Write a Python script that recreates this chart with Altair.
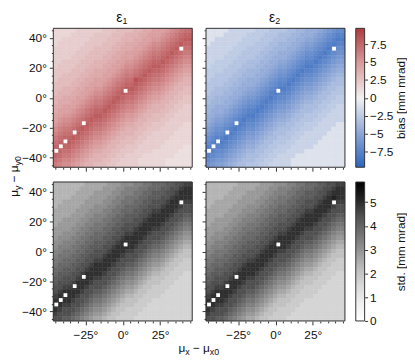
import altair as alt

FONT = "Liberation Sans"
TEXT = "#111111"
FRAME = "#333333"

# cell centres (degrees)
X_CENTERS = [-45, -42, -39, -36, -33, -30, -27, -24, -21, -18, -15, -12, -9, -6, -3,
             0, 3, 6, 9, 12, 15, 18, 21, 24, 27, 30, 33, 36, 39, 42, 45]
Y_CENTERS = [45, 42, 39, 36, 33, 30, 27, 24, 21, 18, 15, 12, 9, 6, 3,
             0, -3, -6, -9, -12, -15, -18, -21, -24, -27, -30, -33, -36, -39, -42, -45]
CELL = 3.0
LIMIT = 46.5

# bias grids: base-36 digit * 0.5 mm mrad (eps2 negative); rows top (y=45) -> bottom (y=-45)
EPS1_ROWS = [
    "3333344444455566667788999ABCDEE",
    "333344444555566677788999ABCDEFF",
    "3344444455556667778899AABCDEFGG",
    "344444455556667788899ABBCDEFGFF",
    "44444455566667788899ABCCDEFGFEE",
    "4444455566667788999ABCDDEFGFEDD",
    "444455566667788999ABCDEEFGFEDCC",
    "4455556667778899AABCDEFFGFEDCBB",
    "455556667778899ABBCDEFGGFEDCBAA",
    "55556667788899ABCCDEFGFFEDCBA99",
    "5566667788899ABCDDEFGFEEDCBA988",
    "566667788999ABCDEEHGFEDDCBA9877",
    "66667788999ABCDEFFGFEDCCBA98777",
    "667778899AABCDEFGGFEDCBBA987766",
    "67778899ABBCDEFGFFEDCBAA9877666",
    "7788899ABCCDEFGFEEDCBA998776655",
    "788899ABCDDEFGFEDDCBA9887766555",
    "88999ABCDEEFGFEDCCBA98777665544",
    "8999ABCDEFFGFEDCBBA987776655444",
    "99AABCDEFGGFEDCBAA9877666554444",
    "9ABBCDEFGFFEDCBA998776665544444",
    "ABCCDEFGFEEDCBA9887766555444433",
    "BCDDEFGFEDDCBA98777665554444333",
    "CDEEFGFEDCCBA987776655444443333",
    "DEFFGFEDCBBA9877666554444433333",
    "EFGGFEDCBAA98776665544444333333",
    "FGFFEDCBA9987766555444443333322",
    "GFEEDCBA98877665554444333333222",
    "FEDDCBA987776655444433333332222",
    "EDCCBA9877766554444333333222222",
    "DCBBA98776665544444333333222222",
]
EPS2_ROWS = [
    "2222244444455566667788999ABCDEE",
    "222244444555566677788999ABCDEFF",
    "2244444455556667778899AABCDEFGG",
    "244444455556667788899ABBCDEFGFF",
    "44444455566667788899ABCCDEFGFEE",
    "4444455566667788999ABCDDEFGFEDD",
    "444455566667788999ABCDEEFGFEDCC",
    "4455556667778899AABCDEFFGFEDCBB",
    "455556667778899ABBCDEFGGFEDCBAA",
    "55556667788899ABCCDEFGFFEDCBA99",
    "5566667788899ABCDDEFGFEEDCBA988",
    "566667788999ABCDEEFGFEDDCBA9877",
    "66667788999ABCDEFFGFEDCCBA98777",
    "667778899AABCDEFGGFEDCBBA987766",
    "67778899ABBCDEFGFFEDCBAA9877666",
    "7788899ABCCDEFGFEEDCBA998776655",
    "788899ABCDDEFGFEDDCBA9887766555",
    "88999ABCDEEFGFEDCCBA98777665544",
    "8999ABCDEFFGFEDCBBA987776655444",
    "99AABCDEFGGFEDCBAA9877666554444",
    "9ABBCDEFGFFEDCBA998776665544444",
    "ABCCDEFGFEEDCBA9887766555444422",
    "BCDDEFGFEDDCBA98777665554444222",
    "CDEEFGFEDCCBA987776655444442222",
    "DEFFGFEDCBBA9877666554444422222",
    "EFGGFEDCBAA98776665544444222222",
    "FGFFEDCBA9987766555444442222222",
    "GFEEDCBA98877665554444222222222",
    "FEDDCBA987776655444422222222222",
    "EDCCBA9877766554444222222222222",
    "DCBBA98776665544444222222222222",
]
# std grids: base-36 digit * 0.26 mm mrad
STD1_ROWS = [
    "9999999AAAAABBBCCCDDEEFFFGGHHII",
    "999999AAAAABBBCCDDDEEFFFGGHHIJJ",
    "99999AAAABBBBCCDDDEEFFGGGHHIJJJ",
    "9999AAAABBBBCCDDEEEFFGGGHHIJJJJ",
    "99AAAAABBBBCCDDEEEFFGGHHHIJJJII",
    "9AAAAABBBCCCDDEEFFFGGHHHIJJJIHH",
    "AAAAABBBCCCDDEEFFFGGHHIIJJJIHHH",
    "AAAABBBCCDDDEEFFGGGHHIJJJJIHHGG",
    "AABBBBCCDDDEEFFGGGHHIJJJJIHHGFF",
    "ABBBBCCDDEEEFFGGHHHIJJJJIHHGFEE",
    "BBBBCCDDEEEFFGGHHHIJJJIIHHGFEDD",
    "BBCCCDDEEFFFGGHHIIJJJIHHHGFEDCC",
    "BCCCDDEEFFFGGHHIJJJJIHHHGFEDCBB",
    "CCDDDEEFFGGGHHIJJJJIHHGGFEDCBAA",
    "CDDDEEFFGGGHHIJJJJIHHGFFEDCBA99",
    "DDEEEFFGGHHHIJJJIIHHGFEEDCBA988",
    "DEEEFFGGHHHIJJJIHHHGFEDDCBA9888",
    "EEFFFGGHHIIJJJIHHHGFEDCCBA98877",
    "EFFFGGHHIJJJJIHHGGFEDCBBA988777",
    "FFGGGHHIJJJJIHHGFFEDCBAA9887777",
    "FGGGHHIJJJJIHHGFEEDCBA998877766",
    "GGHHHIJJJIIHHGFEDDCBA9888777666",
    "GHHHIJJJIHHHGFEDCCBA98887776666",
    "HHIIJJJIHHHGFEDCBBA988777766666",
    "HIJJJJIHHGGFEDCBAA9887777666666",
    "IJJJJIHHGFFEDCBA998877776666666",
    "JJJJIHHGFEEDCBA9888777666666666",
    "JJIIHHGFEDDCBA98887776666666666",
    "JIHHHGFEDCCBA988777766666666666",
    "IHHHGFEDCBBA9887777666666666666",
    "HHGGFEDCBAA98877776666666666666",
]
STD2_ROWS = [
    "9999999AAAAABBBCCCDDEEFFFGGHHII",
    "999999AAAAABBBCCDDDEEFFFGGHHIJJ",
    "99999AAAABBBBCCDDDEEFFGGGHHIJJJ",
    "9999AAAABBBBCCDDEEEFFGGGHHIJKJJ",
    "99AAAAABBBBCCDDEEEFFGGHHHIJJJII",
    "9AAAAABBBCCCDDEEFFFGGHHHIJJJIHH",
    "AAAAABBBCCCDDEEFFFGGHHIIJJJIHHH",
    "AAAABBBCCDDDEEFFGGGHHIJJJJIHHGG",
    "AABBBBCCDDDEEFFGGGHHIJJJJIHHGFF",
    "ABBBBCCDDEEEFFGGHHHIJJJJIHHGFEE",
    "BBBBCCDDEEEFFGGHHHIJJJIIHHGFEDD",
    "BBCCCDDEEFFFGGHHIIJJJIHHHGFEDCC",
    "BCCCDDEEFFFGGHHIJJJJIHHHGFEDCBB",
    "CCDDDEEFFGGGHHIJJJJIHHGGFEDCBAA",
    "CDDDEEFFGGGHHIJJJJIHHGFFEDCBA99",
    "DDEEEFFGGHHHIJJJIIHHGFEEDCBA988",
    "DEEEFFGGHHHIJJJIHHHGFEDDCBA9888",
    "EEFFFGGHHIIJJJIHHHGFEDCCBA98877",
    "EFFFGGHHIJJJJIHHGGFEDCBBA988777",
    "FFGGGHHIJJJJIHHGFFEDCBAA9887777",
    "FGGGHHIJJJJIHHGFEEDCBA998877766",
    "GGHHHIJJJIIHHGFEDDCBA9888777666",
    "GHHHIJJJIHHHGFEDCCBA98887776666",
    "HHIIJJJIHHHGFEDCBBA988777766666",
    "HIJJJJIHHGGFEDCBAA9887777666666",
    "IJJJJIHHGFFEDCBA998877776666666",
    "JJJJIHHGFEEDCBA9888777666666666",
    "JJIIHHGFEDDCBA98887776666666666",
    "JIHHHGFEDCCBA988777766666666666",
    "IHHHGFEDCBBA9887777666666666666",
    "HHGGFEDCBAA98877776666666666666",
]
BIAS_UNIT = 0.5
STD_UNIT = 0.26

# white markers (degrees)
MARK_X = [-44.5, -41.5, -38.4, -32.2, -26.1, 1.9, 39.2]
MARK_Y = [-35.5, -32.5, -29.2, -23.2, -17.0, 4.7, 32.9]

MINOR_TICKS = [-45, -40, -35, -30, -25, -20, -15, -10, -5, 0, 5, 10, 15, 20, 25, 30, 35, 40, 45]
BIAS_TICKS = [-7.5, -5, -2.5, 0, 2.5, 5, 7.5]
STD_TICKS = [0, 1, 2, 3, 4, 5]
BIAS_LIMIT = 9.7
STD_MAX = 5.85

BIAS_COLORS = ["#2c65bd", "#8fa8d8", "#f1f1f1", "#d99a9b", "#ad3a3e"]
GREY_COLORS = ["#ffffff", "#f0f0f0", "#d9d9d9", "#bdbdbd", "#969696",
               "#737373", "#525252", "#252525", "#000000"]

BIAS_DOMAIN = [-BIAS_LIMIT, -BIAS_LIMIT / 2, 0, BIAS_LIMIT / 2, BIAS_LIMIT]
STD_DOMAIN = [STD_MAX * k / 8 for k in range(9)]

W = 141


def cells(rows, unit, field):
    recs = []
    for j, row in enumerate(rows):
        for i, ch in enumerate(row):
            recs.append({"xa": X_CENTERS[i] - CELL / 2, "xb": X_CENTERS[i] + CELL / 2,
                         "ya": Y_CENTERS[j] - CELL / 2, "yb": Y_CENTERS[j] + CELL / 2,
                         field: int(ch, 36) * unit})
    return recs


def make_axis(show, major, pad):
    kw = dict(values=MINOR_TICKS, title=None, domain=False, grid=False,
              labelOverlap=False, labelFlush=False, labelPadding=pad,
              tickSize={"condition": {"test": f"datum.value % {major} === 0", "value": 4}, "value": 2})
    if show:
        kw["labelExpr"] = (f"datum.value % {major} === 0 ? "
                           "replace(toString(datum.value), '-', '\u2212') + '\u00b0' : ''")
    else:
        kw["labels"] = False
    return alt.Axis(**kw)


def txt(s, x, y, size, angle=0):
    return alt.Chart(alt.Data(values=[{"t": s}])).mark_text(
        align="left", baseline="alphabetic", font=FONT, fontSize=size,
        color=TEXT, angle=angle).encode(text="t:N", x=alt.value(x), y=alt.value(y))


def panel(rows, unit, field, domain, colors, show_x, show_y, extra):
    scale = alt.Scale(domain=domain, range=colors, interpolate="rgb")
    xs = alt.Scale(domain=[-LIMIT, LIMIT], nice=False, zero=False)
    ys = alt.Scale(domain=[-LIMIT, LIMIT], nice=False, zero=False)
    xaxis = make_axis(show_x, 25, 5)
    yaxis = make_axis(show_y, 20, 3)
    heat = alt.Chart(alt.Data(values=cells(rows, unit, field))).mark_rect(strokeWidth=0.5).encode(
        x=alt.X("xa:Q", scale=xs, axis=xaxis), x2="xb:Q",
        y=alt.Y("ya:Q", scale=ys, axis=yaxis), y2="yb:Q",
        color=alt.Color(f"{field}:Q", scale=scale, legend=None),
        stroke=alt.Stroke(f"{field}:Q", scale=scale, legend=None))
    marks = alt.Chart(alt.Data(values=[{"xa": a, "ya": b} for a, b in zip(MARK_X, MARK_Y)])).mark_square(
        size=15, color="white", opacity=1, filled=True).encode(
        x=alt.X("xa:Q", scale=xs, axis=xaxis), y=alt.Y("ya:Q", scale=ys, axis=yaxis))
    frame = alt.Chart(alt.Data(values=[{}])).mark_rect(filled=False, stroke=FRAME, strokeWidth=1).encode(
        x=alt.value(0), x2=alt.value("width"), y=alt.value(0), y2=alt.value("height"))
    return alt.layer(heat, marks, frame, *extra).properties(width=W, height=W)


def colorbar(colors, ticks, title, lo, hi):
    n = len(colors)
    grad = {"gradient": "linear", "x1": 0, "x2": 0, "y1": 1, "y2": 0,
            "stops": [{"offset": k / (n - 1), "color": c} for k, c in enumerate(colors)]}
    ax = alt.Axis(values=ticks, orient="right", tickSize=3, labelPadding=2, domain=False, grid=False,
                  labelExpr="replace(toString(datum.value), '-', '\u2212')",
                  title=title, titleAngle=270, titleX=40, titleY=W / 2, titleAlign="center",
                  titleBaseline="alphabetic", titleFontWeight="normal")
    return alt.Chart(alt.Data(values=[{"lo": lo, "hi": hi}])).mark_rect(
        fill=grad, stroke=FRAME, strokeWidth=1).encode(
        x=alt.value(-3), x2=alt.value(6),
        y=alt.Y("lo:Q", scale=alt.Scale(domain=[lo, hi], nice=False, zero=False), axis=ax),
        y2="hi:Q").properties(width=6, height=W)


title1 = [txt("\u03b5", 64, -6.5, 14), txt("1", 70.3, -4, 9)]
title2 = [txt("\u03b5", 64, -6.5, 14), txt("2", 70.3, -4, 9)]
ytitle = [txt("\u03bc", -35.5, 171, 12, 270), txt("y", -32.5, 164.1, 9, 270),
          txt("\u2212", -35.5, 156.3, 12, 270), txt("\u03bc", -35.5, 146.0, 12, 270),
          txt("y0", -32.5, 139.1, 9, 270)]
xtitle = [txt("\u03bc", 127, 173, 12), txt("x", 133.9, 175.5, 9),
          txt("\u2212", 141.7, 173, 12), txt("\u03bc", 152.0, 173, 12),
          txt("x0", 158.9, 175.5, 9)]

tl = panel(EPS1_ROWS, BIAS_UNIT, "bias", BIAS_DOMAIN, BIAS_COLORS, False, True, title1 + ytitle)
tr = panel(EPS2_ROWS, -BIAS_UNIT, "bias", BIAS_DOMAIN, BIAS_COLORS, False, False, title2)
cb1 = colorbar(BIAS_COLORS, BIAS_TICKS, "bias [mm mrad]", -BIAS_LIMIT, BIAS_LIMIT)
bl = panel(STD1_ROWS, STD_UNIT, "std", STD_DOMAIN, GREY_COLORS, True, True, xtitle)
br = panel(STD2_ROWS, STD_UNIT, "std", STD_DOMAIN, GREY_COLORS, True, False, [])
cb2 = colorbar(GREY_COLORS, STD_TICKS, "std. [mm mrad]", 0, STD_MAX)

chart = alt.concat(tl, tr, cb1, bl, br, cb2, columns=3, spacing={"row": 15, "column": 14},
                   bounds="flush", align="each").resolve_scale(
    color="independent", stroke="independent").properties(
    padding=0).configure_view(
    stroke="transparent").configure_axis(
    labelFont=FONT, labelFontSize=12, labelColor=TEXT, tickColor=FRAME, tickWidth=1,
    titleFont=FONT, titleFontSize=12, titleColor=TEXT)

chart.save("out.html", embed_options={"renderer": "svg", "actions": False})
